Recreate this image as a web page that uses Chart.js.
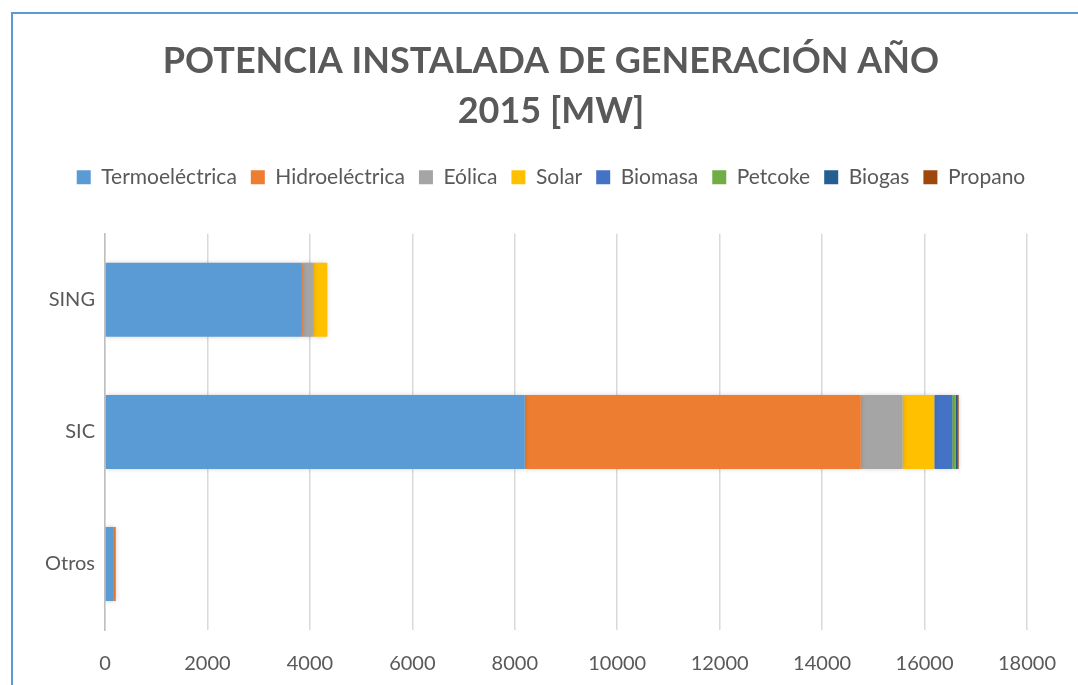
<!DOCTYPE html>
<html>
<head>
<meta charset="utf-8">
<script src="https://cdn.jsdelivr.net/npm/chart.js@4/dist/chart.umd.min.js"></script>
<style>
  html, body { margin: 0; padding: 0; background: #fff; }
  #wrap { position: relative; width: 1078px; height: 685px; overflow: hidden; }
  #frame { position: absolute; left: 11px; top: 12px; width: 1100px; height: 700px; border: 2px solid #5b9bd5; box-sizing: border-box; }
  #chart { position: absolute; left: 0; top: 0; }
</style>
</head>
<body>
<div id="wrap">
  <div id="frame"></div>
  <canvas id="chart" width="1078" height="685"></canvas>
</div>
<script>
// Datos
const categorias = ['SING', 'SIC', 'Otros'];
const termo   = [3845, 8195, 160];
const hidro   = [15, 6560, 50];
const eolica  = [200, 815, 0];
const solar   = [280, 620, 0];
const biomasa = [0, 350, 0];
const petcoke = [0, 70, 0];
const biogas  = [0, 40, 0];
const propano = [0, 15, 0];

const series = [
  { label: 'Termoeléctrica', data: termo,   color: '#5b9bd5' },
  { label: 'Hidroeléctrica', data: hidro,   color: '#ed7d31' },
  { label: 'Eólica',         data: eolica,  color: '#a5a5a5' },
  { label: 'Solar',          data: solar,   color: '#ffc000' },
  { label: 'Biomasa',        data: biomasa, color: '#4472c4' },
  { label: 'Petcoke',        data: petcoke, color: '#70ad47' },
  { label: 'Biogas',         data: biogas,  color: '#255e91' },
  { label: 'Propano',        data: propano, color: '#9e480e' }
];

const fuente = "Lato, 'Open Sans', sans-serif";
const gris = '#595959';

// sombra suave bajo las barras
const sombra = {
  id: 'sombra',
  beforeDatasetsDraw(chart) {
    const c = chart.ctx;
    c.save();
    c.shadowColor = 'rgba(0,0,0,0.22)';
    c.shadowBlur = 5;
  },
  afterDatasetsDraw(chart) {
    chart.ctx.restore();
  }
};

// título y leyenda un poco a la derecha, como en el original
const desplazar = {
  id: 'desplazar',
  afterLayout(chart) {
    const dx = 25;
    [chart.titleBlock, chart.legend].forEach(b => {
      if (b) { b.left += dx; b.right += dx; }
    });
  }
};

new Chart(document.getElementById('chart'), {
  type: 'bar',
  data: {
    labels: categorias,
    datasets: series.map(s => ({
      label: s.label,
      data: s.data,
      backgroundColor: s.color,
      borderWidth: 0,
      categoryPercentage: 1,
      barPercentage: 0.56
    }))
  },
  options: {
    indexAxis: 'y',
    responsive: false,
    animation: false,
    layout: { padding: { left: 20, right: 46, top: 36, bottom: 4 } },
    plugins: {
      title: {
        display: true,
        text: ['POTENCIA INSTALADA DE GENERACIÓN AÑO', '2015 [MW]'],
        color: gris,
        font: { family: fuente, size: 36, weight: 'bold', lineHeight: 1.4 },
        padding: { top: 0, bottom: 16 }
      },
      legend: {
        position: 'top',
        labels: {
          boxWidth: 14,
          boxHeight: 14,
          padding: 14,
          color: gris,
          font: { family: fuente, size: 21 }
        }
      },
      tooltip: { enabled: false }
    },
    scales: {
      x: {
        stacked: true,
        min: 0,
        max: 18000,
        ticks: {
          stepSize: 2000,
          color: gris,
          padding: 22,
          font: { family: fuente, size: 20 },
          callback: v => String(v)
        },
        grid: { color: '#d9d9d9', lineWidth: 1.5, drawTicks: false },
        border: { display: false },
        afterFit(scale) { scale.height = 51; }
      },
      // eje vacío arriba, solo deja aire entre la leyenda y las barras
      hueco: {
        type: 'linear',
        axis: 'x',
        position: 'top',
        min: 0,
        max: 1,
        ticks: { display: false },
        grid: { display: false, drawTicks: false },
        border: { display: false },
        afterFit(scale) { scale.height = 36; }
      },
      y: {
        stacked: true,
        ticks: { color: gris, padding: 10, font: { family: fuente, size: 20 } },
        grid: { display: false, drawTicks: false },
        border: { display: true, color: '#bfbfbf', width: 1.5 },
        afterFit(scale) { scale.width = 85; }
      }
    }
  },
  plugins: [sombra, desplazar]
});
</script>
</body>
</html>
